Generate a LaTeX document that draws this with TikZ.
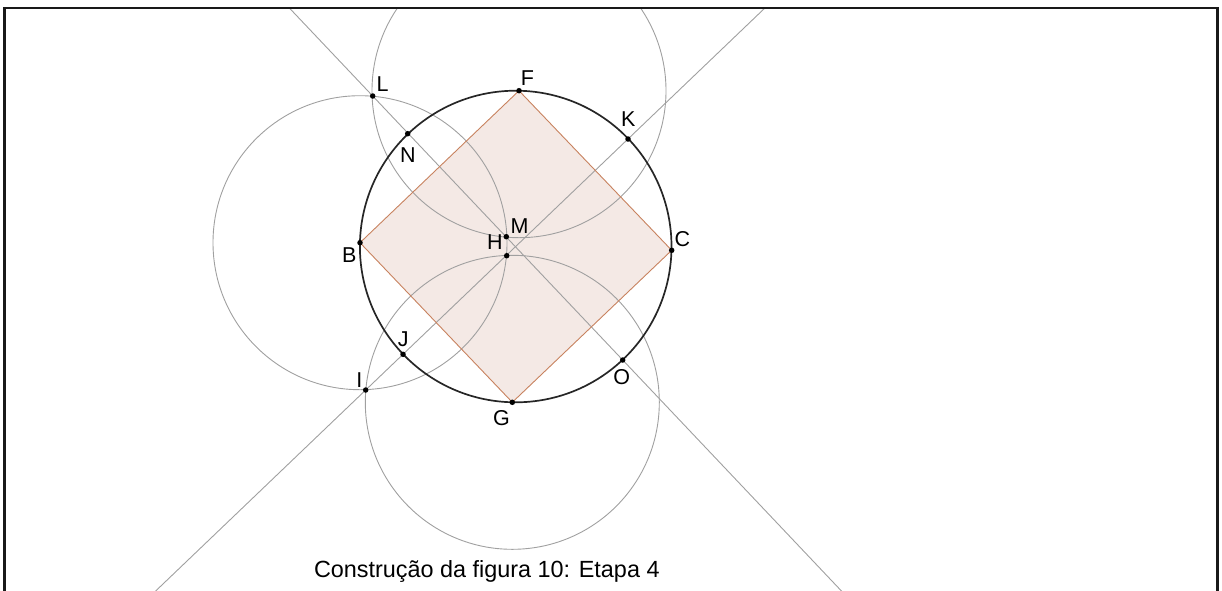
\documentclass[tikz,border=0pt]{standalone}
\usepackage{fontspec}
\setmainfont{Liberation Sans}
\usetikzlibrary{calc}
\definecolor{sqfill}{RGB}{244,233,229}
\definecolor{sqedge}{RGB}{200,130,95}
\definecolor{auxgray}{RGB}{160,160,160}
\begin{document}
\begin{tikzpicture}[x=1pt,y=-1pt,
  pt/.style={circle,fill=black,inner sep=0pt,minimum size=5.5pt},
  lbl/.style={inner sep=0pt,font=\fontsize{21.5}{24}\selectfont,text=black},
  aux/.style={draw=auxgray,line width=0.9pt},
  mainc/.style={draw=black!85,line width=1.7pt},
  sqside/.style={draw=sqedge,line width=0.9pt}]
\useasboundingbox (0,0) rectangle (1222,590);
% points
\coordinate (B) at (360,242.7);
\coordinate (C) at (671.7,250.3);
\coordinate (F) at (519,90.7);
\coordinate (G) at (512.3,402.3);
\coordinate (L) at (372.7,96);
\coordinate (N) at (407.7,133.7);
\coordinate (K) at (628,139);
\coordinate (M) at (506.3,236.7);
\coordinate (H) at (506.7,255.7);
\coordinate (J) at (403,354.3);
\coordinate (I) at (365.7,390);
\coordinate (O) at (622.7,360);
\coordinate (Z) at (515.7,246.5);
% square fill
\fill[sqfill] (B) -- (F) -- (C) -- (G) -- cycle;
% auxiliary construction, clipped by the frame
\begin{scope}
  \clip (4.7,8) rectangle (1217.5,590);
  \draw[aux] (B) circle[radius=147pt];
  \draw[aux] (F) circle[radius=147pt];
  \draw[aux] (G) circle[radius=147pt];
  \draw[aux] ($(L)!-2!(O)$) -- ($(L)!3!(O)$);
  \draw[aux] ($(I)!-2!(K)$) -- ($(I)!3!(K)$);
\end{scope}
% square sides
\draw[sqside] (B) -- (F) -- (C) -- (G) -- cycle;
% main circle
\draw[mainc] (Z) circle[radius=155.8pt];
% dots
\foreach \p in {B,C,F,G,L,N,K,M,H,J,I,O}{\node[pt] (p\p) at (\p) {};}
% labels
\node[lbl] (lF) at (527.5,78) {F};
\node[lbl] (lL) at (382.5,84.5) {L};
\node[lbl] (lN) at (408,155) {N};
\node[lbl] (lK) at (628.3,118.7) {K};
\node[lbl] (lM) at (519.5,226) {M};
\node[lbl] (lH) at (495,241.7) {H};
\node[lbl] (lC) at (682.5,239) {C};
\node[lbl] (lB) at (349.3,255) {B};
\node[lbl] (lJ) at (403.3,339) {J};
\node[lbl] (lI) at (359.3,380) {I};
\node[lbl] (lO) at (621.7,377) {O};
\node[lbl] (lG) at (501.5,418) {G};
% caption
\node[anchor=base west,inner sep=0pt,font=\fontsize{23.4}{26}\selectfont,text=black] (cap) at (313.8,577.3) {Construção da figura 10: Etapa 4};
% frame
\draw[line width=2.7pt,black!90] (4.7,600) -- (4.7,8) -- (1217.5,8) -- (1217.5,600);
\end{tikzpicture}
\end{document}
